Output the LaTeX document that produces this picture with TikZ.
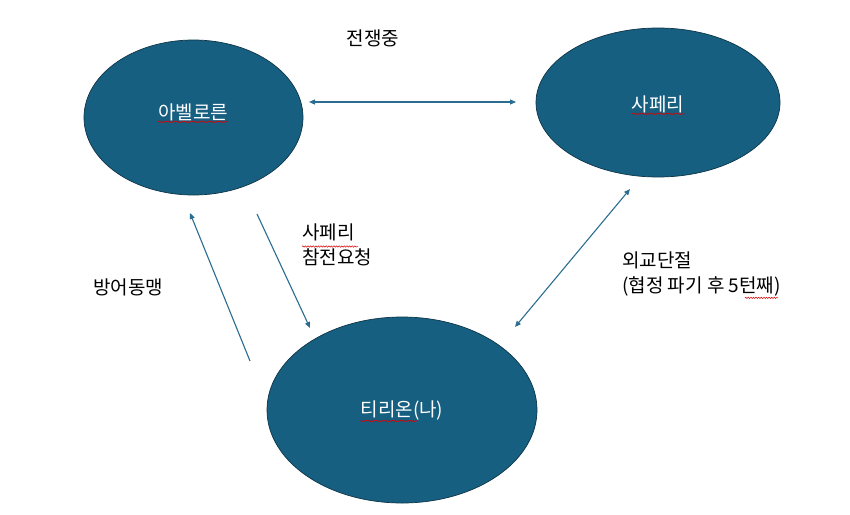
\documentclass[tikz,border=0pt]{standalone}
\usepackage{fontspec}
\setmainfont{Noto Sans CJK KR}
\usetikzlibrary{shapes.geometric,arrows.meta,decorations.pathmorphing}
\definecolor{ellfill}{HTML}{175F81}
\definecolor{ellline}{HTML}{0E3548}
\definecolor{arrcol}{HTML}{2A6D90}
\tikzset{
  ell/.style={ellipse, draw=ellline, line width=0.7pt, fill=ellfill, inner sep=0pt},
  etxt/.style={text=white, inner sep=0pt, font=\fontsize{19}{22}\selectfont},
  ptxt/.style={inner sep=0pt, font=\fontsize{19}{22}\selectfont},
  lbl/.style={anchor=north west, align=left, inner sep=0pt, font=\fontsize{19}{25}\selectfont},
  link/.style={draw=arrcol, line width=1.1pt, -{Triangle[length=6pt,width=5pt]}},
  dlink/.style={draw=arrcol, line width=1.1pt, {Triangle[length=6pt,width=5pt]}-{Triangle[length=6pt,width=5pt]}},
  squig/.style={draw=red!85!black, line width=0.5pt, decorate, decoration={snake, amplitude=0.7pt, segment length=2.6pt}}
}
\begin{document}
\begin{tikzpicture}[x=1pt,y=-1pt]
\useasboundingbox (0,0) rectangle (850,514);
\fill[white] (0,0) rectangle (850,514);
\node[ell, minimum width=219pt, minimum height=155pt] (abel) at (193.5,117.5) {};
\node[ell, minimum width=244pt, minimum height=149pt] (saf) at (658,102.5) {};
\node[ell, minimum width=270pt, minimum height=186pt] (tir) at (402,410) {};
\node[etxt] (abelt) at (193,112) {아벨로른};
\node[etxt] (saft) at (658,104) {사페리};
\node[etxt] (tirt) at (402,410) {티리온(나)};
\draw[squig] ([yshift=-1pt]abelt.south west) -- ([yshift=-1pt]abelt.south east);
\draw[squig] ([yshift=-1pt]saft.south west) -- ([yshift=-1pt]saft.south east);
\draw[squig] ([yshift=-1pt]tirt.south west) -- ++(57,0);
% labels
\node[ptxt] (war) at (373,38) {전쟁중};
\node[lbl] (req) at (302,224) {사페리\\참전요청};
\node[ptxt] (ally) at (128,287) {방어동맹};
\node[lbl] (cut) at (622,252) {외교단절\\(협정 파기 후 5턴째)};
\draw[squig] (302,246.5) -- (358,246.5);
\draw[squig] ([xshift=-36pt,yshift=-1pt]cut.south east) -- ([xshift=-3pt,yshift=-1pt]cut.south east);
% connectors
\coordinate (h1) at (309,102);
\coordinate (h2) at (516,102);
\coordinate (d1) at (630,189);
\coordinate (d2) at (515,327);
\coordinate (r1) at (257,214);
\coordinate (r2) at (310,328);
\coordinate (a1) at (250,361);
\coordinate (a2) at (190,213);
\draw[dlink] (h1) -- (h2);
\draw[dlink] (d1) -- (d2);
\draw[link] (r1) -- (r2);
\draw[link] (a1) -- (a2);
\end{tikzpicture}
\end{document}
